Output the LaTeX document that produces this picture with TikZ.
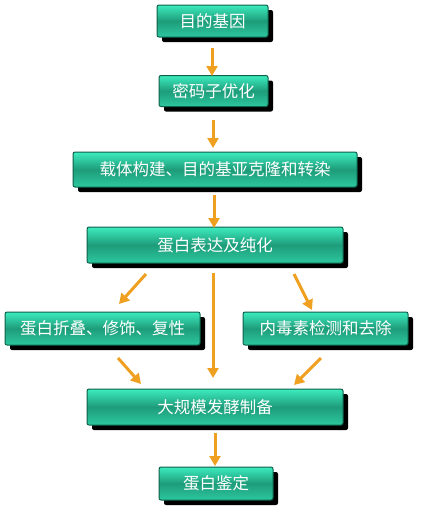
\documentclass[tikz,border=0pt]{standalone}
\usepackage{fontspec}
\newfontfamily\cjk{Noto Sans CJK SC}
\usetikzlibrary{arrows.meta,shadows}
\definecolor{boxtop}{RGB}{60,236,190}
\definecolor{boxmid}{RGB}{30,156,122}
\definecolor{boxbot}{RGB}{44,200,158}
\definecolor{boxedge}{RGB}{14,96,74}
\definecolor{arr}{RGB}{240,160,32}
\tikzset{
  stepbox/.style={draw=boxedge, line width=1pt, rounded corners=2pt,
    top color=boxtop, bottom color=boxbot, middle color=boxmid,
    general shadow={fill=black, shadow xshift=5pt, shadow yshift=-5pt},
    text=white, font=\cjk\fontsize{16.5}{18}\selectfont, inner sep=0pt},
  flow/.style={draw=arr, line width=3pt, -{Triangle[width=11pt,length=10pt]}}
}
\begin{document}
\begin{tikzpicture}[x=1pt,y=-1pt]
\useasboundingbox (0,0) rectangle (421,512);
\node[stepbox, minimum width=111pt, minimum height=32pt] (b1) at (212.5,21) {目的基因};
\node[stepbox, minimum width=109pt, minimum height=31pt] (b2) at (213.5,91) {密码子优化};
\node[stepbox, minimum width=284pt, minimum height=35pt] (b3) at (215,169.5) {载体构建、目的基亚克隆和转染};
\node[stepbox, minimum width=256pt, minimum height=36pt] (b4) at (215,245) {蛋白表达及纯化};
\node[stepbox, minimum width=195pt, minimum height=33pt] (b5) at (102.5,328.5) {蛋白折叠、修饰、复性};
\node[stepbox, minimum width=165pt, minimum height=33pt] (b6) at (325.5,328.5) {内毒素检测和去除};
\node[stepbox, minimum width=256pt, minimum height=36pt] (b7) at (215,407) {大规模发酵制备};
\node[stepbox, minimum width=114pt, minimum height=33pt] (b8) at (216,483.5) {蛋白鉴定};
% vertical arrows
\coordinate (a1s) at (212,48); \coordinate (a1e) at (212,76);
\coordinate (a2s) at (213,120); \coordinate (a2e) at (213,148);
\coordinate (a3s) at (214,195); \coordinate (a3e) at (214,228);
\coordinate (a4s) at (213,273); \coordinate (a4e) at (213,378);
\coordinate (a5s) at (215,433); \coordinate (a5e) at (215,466);
% diagonal arrows
\coordinate (d1s) at (146,274); \coordinate (d1e) at (119,304);
\coordinate (d2s) at (294,274); \coordinate (d2e) at (312,310);
\coordinate (d3s) at (118,358); \coordinate (d3e) at (141,384);
\coordinate (d4s) at (321,358); \coordinate (d4e) at (294,385);
\foreach \s/\e in {a1s/a1e,a2s/a2e,a3s/a3e,a4s/a4e,a5s/a5e,d1s/d1e,d2s/d2e,d3s/d3e,d4s/d4e}
  \draw[flow] (\s) -- (\e);
\end{tikzpicture}
\end{document}
